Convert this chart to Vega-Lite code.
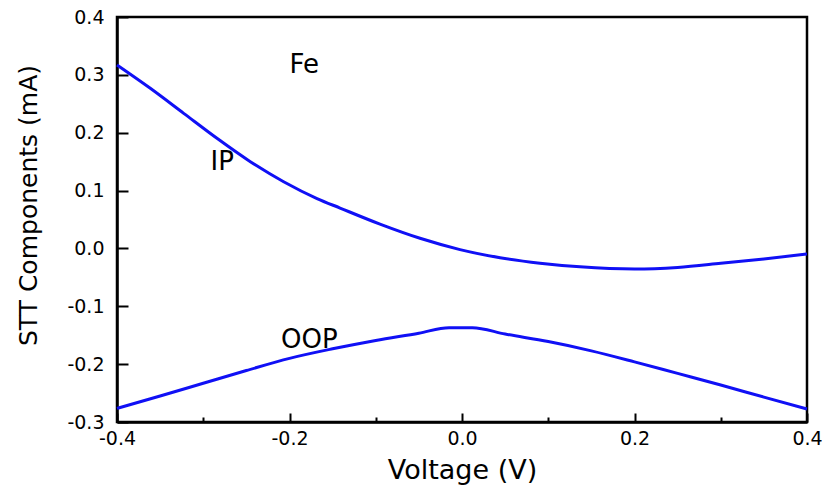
{
  "$schema": "https://vega.github.io/schema/vega-lite/v6.json",
  "width": 690,
  "height": 405,
  "autosize": {"type": "none"},
  "padding": {"left": 117, "top": 17, "right": 21, "bottom": 70},
  "background": "white",
  "config": {"view": {"stroke": "black", "strokeWidth": 2.5}},
  "layer": [
    {
      "data": {
        "values": [
          {"component": "IP", "voltage": -0.4, "current": 0.317},
          {"component": "IP", "voltage": -0.3614, "current": 0.2767},
          {"component": "IP", "voltage": -0.3227, "current": 0.2335},
          {"component": "IP", "voltage": -0.2841, "current": 0.1903},
          {"component": "IP", "voltage": -0.2454, "current": 0.1499},
          {"component": "IP", "voltage": -0.2068, "current": 0.1153},
          {"component": "IP", "voltage": -0.1681, "current": 0.0862},
          {"component": "IP", "voltage": -0.1414, "current": 0.0698},
          {"component": "IP", "voltage": -0.0951, "current": 0.042},
          {"component": "IP", "voltage": -0.0487, "current": 0.0175},
          {"component": "IP", "voltage": -0.0023, "current": -0.002},
          {"component": "IP", "voltage": 0.0441, "current": -0.016},
          {"component": "IP", "voltage": 0.0904, "current": -0.0255},
          {"component": "IP", "voltage": 0.1368, "current": -0.0318},
          {"component": "IP", "voltage": 0.2, "current": -0.0356},
          {"component": "IP", "voltage": 0.25, "current": -0.0328},
          {"component": "IP", "voltage": 0.3, "current": -0.0258},
          {"component": "IP", "voltage": 0.35, "current": -0.0182},
          {"component": "IP", "voltage": 0.4, "current": -0.0097},
          {"component": "OOP", "voltage": -0.4, "current": -0.2765},
          {"component": "OOP", "voltage": -0.35, "current": -0.255},
          {"component": "OOP", "voltage": -0.3, "current": -0.233},
          {"component": "OOP", "voltage": -0.25, "current": -0.211},
          {"component": "OOP", "voltage": -0.2, "current": -0.19},
          {"component": "OOP", "voltage": -0.15, "current": -0.1735},
          {"component": "OOP", "voltage": -0.1, "current": -0.159},
          {"component": "OOP", "voltage": -0.05, "current": -0.1465},
          {"component": "OOP", "voltage": -0.015, "current": -0.137},
          {"component": "OOP", "voltage": 0.012, "current": -0.137},
          {"component": "OOP", "voltage": 0.05, "current": -0.148},
          {"component": "OOP", "voltage": 0.1, "current": -0.161},
          {"component": "OOP", "voltage": 0.15, "current": -0.177},
          {"component": "OOP", "voltage": 0.2, "current": -0.196},
          {"component": "OOP", "voltage": 0.25, "current": -0.216},
          {"component": "OOP", "voltage": 0.3, "current": -0.236},
          {"component": "OOP", "voltage": 0.35, "current": -0.257},
          {"component": "OOP", "voltage": 0.4, "current": -0.2775}
        ]
      },
      "mark": {"type": "line", "color": "#1010f5", "strokeWidth": 3, "interpolate": "monotone"},
      "encoding": {
        "x": {
          "field": "voltage",
          "type": "quantitative",
          "scale": {"domain": [-0.4, 0.4], "nice": false, "zero": false},
          "axis": {
            "orient": "bottom",
            "grid": false,
            "values": [-0.4, -0.3, -0.2, -0.1, 0, 0.1, 0.2, 0.3, 0.4],
            "labelExpr": "abs(round(datum.value*10)) % 2 == 0 ? (datum.value < -0.001 ? '-' : '') + format(abs(datum.value), '.1f') : ''",
            "tickSize": {"condition": {"test": "abs(round(datum.value*10)) % 2 == 1", "value": -5}, "value": -9},
            "tickColor": "black",
            "tickWidth": 2,
            "domainColor": "black",
            "domainWidth": 2.5,
            "labelPadding": 16,
            "labelFlush": false,
            "labelOverlap": false,
            "labelColor": "black",
            "labelFont": "DejaVu Sans",
            "labelFontSize": 19,
            "title": "Voltage (V)",
            "titleColor": "black",
            "titleFont": "DejaVu Sans",
            "titleFontWeight": "normal",
            "titleFontSize": 27,
            "titleBaseline": "alphabetic",
            "titleY": 56
          }
        },
        "y": {
          "field": "current",
          "type": "quantitative",
          "scale": {"domain": [-0.3, 0.4], "nice": false, "zero": false},
          "axis": {
            "orient": "left",
            "grid": false,
            "values": [-0.3, -0.25, -0.2, -0.15, -0.1, -0.05, 0, 0.05, 0.1, 0.15, 0.2, 0.25, 0.3, 0.35, 0.4],
            "labelExpr": "abs(round(datum.value*20)) % 2 == 0 ? (datum.value < -0.001 ? '-' : '') + format(abs(datum.value), '.1f') : ''",
            "tickSize": {"condition": {"test": "abs(round(datum.value*20)) % 2 == 1", "value": -6}, "value": -11},
            "tickColor": "black",
            "tickWidth": 2,
            "domainColor": "black",
            "domainWidth": 2.5,
            "labelPadding": 24,
            "labelFlush": false,
            "labelOverlap": false,
            "labelColor": "black",
            "labelFont": "DejaVu Sans",
            "labelFontSize": 19,
            "title": "STT Components (mA)",
            "titleColor": "black",
            "titleFont": "DejaVu Sans",
            "titleFontWeight": "normal",
            "titleFontSize": 25,
            "titleBaseline": "middle",
            "titleX": -89,
            "titleY": 188
          }
        },
        "detail": {"field": "component", "type": "nominal"}
      }
    },
    {
      "data": {
        "values": [
          {"label": "Fe", "voltage": -0.183, "current": 0.303},
          {"label": "IP", "voltage": -0.278, "current": 0.1355},
          {"label": "OOP", "voltage": -0.177, "current": -0.172}
        ]
      },
      "mark": {"type": "text", "font": "DejaVu Sans", "fontSize": 26, "color": "black", "align": "center", "baseline": "alphabetic"},
      "encoding": {
        "x": {"field": "voltage", "type": "quantitative"},
        "y": {"field": "current", "type": "quantitative"},
        "text": {"field": "label", "type": "nominal"}
      }
    }
  ]
}
